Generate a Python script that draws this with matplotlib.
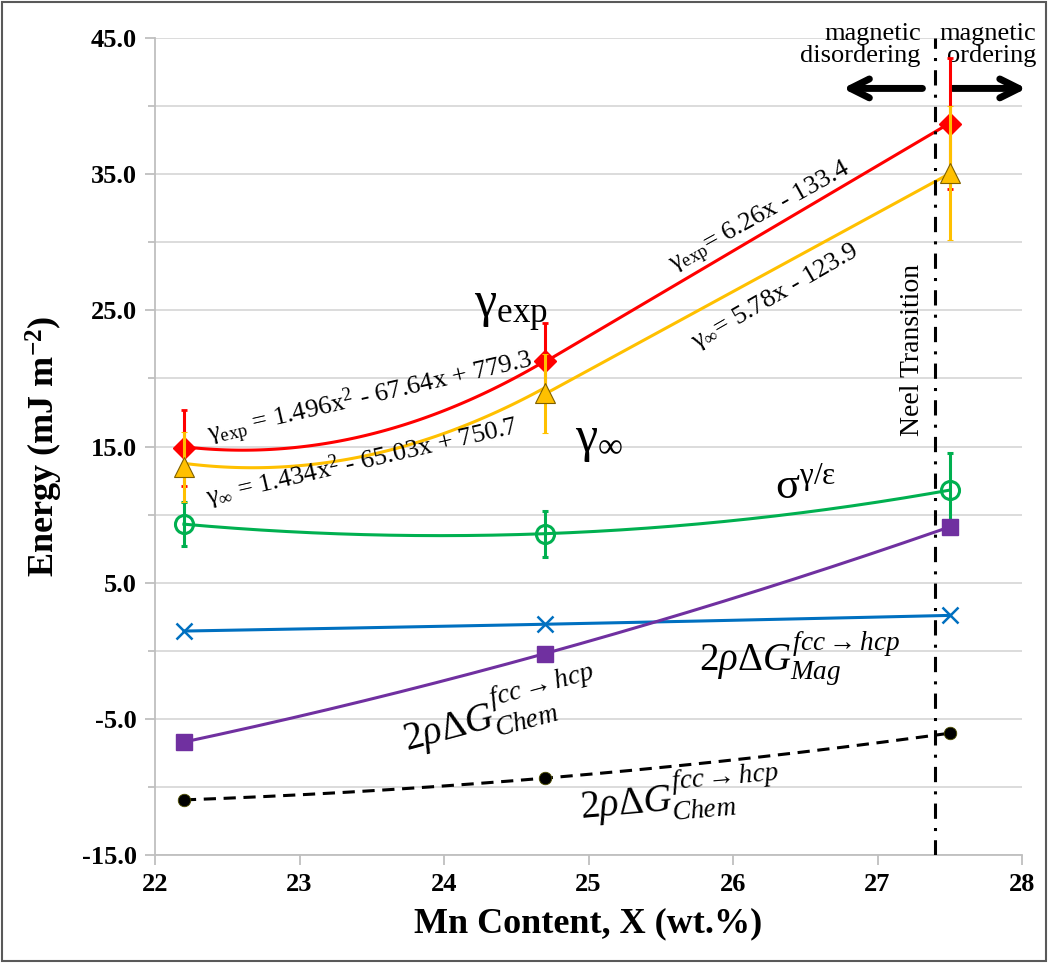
#Imports
import numpy as np
import matplotlib
matplotlib.use('Agg')
from matplotlib import pyplot as plt
from matplotlib.ticker import MultipleLocator, FixedLocator, FormatStrFormatter
from matplotlib.patches import Rectangle
#-----------------------------------------------------------------------------
#data
mn = [22.2, 24.7, 27.5]

gamma_exp = [14.9, 21.3, 38.7]
gamma_exp_err = [2.8, 2.8, 4.8]
gamma_inf = [13.5, 18.9, 35.1]
gamma_inf_err = [2.6, 2.9, 4.9]
sigma = [9.3, 8.6, 11.8]
sigma_err = [1.6, 1.7, 2.7]
g_mag = [1.45, 1.95, 2.6]
g_chem = [-6.7, -0.2, 9.1]
g_chem2 = [-10.95, -9.35, -6.05]

#trendline coefficients printed on the chart
exp_quad = [1.496, -67.64, 779.3]
exp_lin = [6.26, -133.4]
inf_quad = [1.434, -65.03, 750.7]
inf_lin = [5.78, -123.9]

y_major = [-15, -5, 5, 15, 25, 35, 45]
y_minor = [-10, 0, 10, 20, 30, 40]
neel_x = 27.4

plt.rcParams['font.family'] = ['Liberation Serif', 'DejaVu Serif']
plt.rcParams['mathtext.fontset'] = 'custom'
plt.rcParams['mathtext.rm'] = 'Liberation Serif'
plt.rcParams['mathtext.it'] = 'Liberation Serif:italic'
plt.rcParams['mathtext.bf'] = 'Liberation Serif:bold'

fig = plt.figure(figsize=(10.48, 9.63), dpi=100)
ax = fig.add_axes([0.1479, 0.1121, 0.8273, 0.8484])

#figure border
fig.patches.append(Rectangle((0.002, 0.002), 0.996, 0.996, transform=fig.transFigure,
                             fill=False, edgecolor='#595959', lw=1.5))

#trend curves
xq = np.linspace(mn[0], mn[1], 100)
xl = np.linspace(mn[1], mn[2], 50)
xa = np.linspace(mn[0], mn[2], 150)
ax.plot(xq, np.polyval(exp_quad, xq), color='#FF0000', lw=2.2, zorder=3)
ax.plot(xl, np.polyval(exp_lin, xl), color='#FF0000', lw=2.2, zorder=3)
ax.plot(xq, np.polyval(inf_quad, xq), color='#FFC000', lw=2.2, zorder=3)
ax.plot(xl, np.polyval(inf_lin, xl), color='#FFC000', lw=2.2, zorder=3)
ax.plot(xa, np.polyval(np.polyfit(mn, sigma, 2), xa), color='#00B050', lw=2.2, zorder=3)
ax.plot(xa, np.polyval(np.polyfit(mn, g_mag, 2), xa), color='#0070C0', lw=2.2, zorder=3)
ax.plot(xa, np.polyval(np.polyfit(mn, g_chem, 2), xa), color='#7030A0', lw=2.2, zorder=3)
ax.plot(xa, np.polyval(np.polyfit(mn, g_chem2, 2), xa), color='black', lw=2.2,
        ls=(0, (4, 2.5)), zorder=3)

#markers with error bars
ax.errorbar(mn, gamma_exp, yerr=gamma_exp_err, fmt='D', color='#FF0000', ms=11,
            ecolor='#FF0000', elinewidth=2.2, capsize=2, capthick=2, zorder=5)
ax.errorbar(mn, gamma_inf, yerr=gamma_inf_err, fmt='^', color='#FFC000', ms=15,
            mec='#7F6000', mew=0.8, ecolor='#FFC000', elinewidth=2.2, capsize=2,
            capthick=2, zorder=6)
ax.errorbar(mn, sigma, yerr=sigma_err, fmt='o', color='#00B050', mfc='none', ms=13,
            mew=2.2, ecolor='#00B050', elinewidth=2.2, capsize=2, capthick=2, zorder=5)
ax.plot(mn, g_mag, 'x', color='#0070C0', ms=12, mew=1.8, zorder=5)
ax.plot(mn, g_chem, 's', color='#7030A0', ms=11, zorder=5)
ax.plot(mn, g_chem2, 'o', color='black', ms=9, mec='#4F4F00', mew=0.6, zorder=5)

#neel line
ax.axvline(neel_x, color='black', lw=2.2, ls=(0, (5, 3, 1, 3)), zorder=4)

#axes format
ax.set_xlim(22, 28)
ax.set_ylim(-15, 45)
ax.xaxis.set_major_locator(MultipleLocator(1))
ax.yaxis.set_major_locator(FixedLocator(y_major))
ax.yaxis.set_minor_locator(FixedLocator(y_minor))
ax.yaxis.set_major_formatter(FormatStrFormatter('%.1f'))
ax.grid(True, axis='y', which='both', color='#D9D9D9', lw=1.3, zorder=0)
ax.set_axisbelow(True)
for s in ['top', 'right']:
    ax.spines[s].set_visible(False)
for s in ['left', 'bottom']:
    ax.spines[s].set_color('#BFBFBF')
    ax.spines[s].set_linewidth(1.3)
ax.tick_params(axis='both', which='major', direction='out', length=7, color='#BFBFBF',
               width=1.3, labelsize=19, pad=6)
ax.tick_params(axis='y', which='minor', direction='out', length=5, color='#BFBFBF', width=1.3)
for lab in ax.get_xticklabels() + ax.get_yticklabels():
    lab.set_fontweight('bold')

ax.set_xlabel('Mn Content, X (wt.%)', fontsize=26, fontweight='bold', labelpad=8)
ax.set_ylabel(r'Energy (mJ m$^{\mathbf{-2}}$)', fontsize=26, fontweight='bold', labelpad=12)

#equation labels
ax.text(23.49, 18.6, r'$\mathrm{\gamma_{exp}}$ = 1.496x$^{2}$ - 67.64x + 779.3', fontsize=19,
        rotation=13, ha='center', va='center', rotation_mode='anchor')
ax.text(23.43, 13.9, r'$\mathrm{\gamma_{\infty}}$ = 1.434x$^{2}$ - 65.03x + 750.7', fontsize=19,
        rotation=13, ha='center', va='center', rotation_mode='anchor')
ax.text(26.19, 31.8, r'$\mathrm{\gamma_{exp}}$= 6.26x - 133.4', fontsize=19,
        rotation=29, ha='center', va='center', rotation_mode='anchor')
ax.text(26.29, 26.0, r'$\mathrm{\gamma_{\infty}}$= 5.78x - 123.9', fontsize=19,
        rotation=30, ha='center', va='center', rotation_mode='anchor')

#series labels
ax.text(24.46, 25.0, r'$\mathrm{\gamma_{exp}}$', fontsize=36, ha='center', va='center')
ax.text(25.07, 15.4, r'$\mathrm{\gamma_{\infty}}$', fontsize=36, ha='center', va='center')
ax.text(26.5, 12.0, r'$\mathrm{\sigma^{\gamma/\varepsilon}}$', fontsize=32,
        ha='center', va='center')
ax.text(26.46, -0.6, r'$\mathrm{2}\rho\Delta G^{fcc\rightarrow hcp}_{Mag}$', fontsize=28,
        ha='center', va='center')
ax.text(24.39, -4.4, r'$\mathrm{2}\rho\Delta G^{fcc\rightarrow hcp}_{Chem}$', fontsize=28,
        rotation=15, ha='center', va='center', rotation_mode='anchor')
ax.text(25.63, -10.6, r'$\mathrm{2}\rho\Delta G^{fcc\rightarrow hcp}_{Chem}$', fontsize=28,
        rotation=5, ha='center', va='center', rotation_mode='anchor')

ax.text(27.24, 22.1, 'Neel Transition', fontsize=20, rotation=90, ha='center', va='center')
ax.text(27.3, 44.5, 'magnetic\ndisordering', fontsize=19, ha='right', va='center',
        linespacing=1.0, clip_on=False)
ax.text(28.1, 44.5, 'magnetic\nordering', fontsize=19, ha='right', va='center',
        linespacing=1.0, clip_on=False)

#arrows
ax.annotate('', xy=(26.74, 41.3), xytext=(27.33, 41.3), annotation_clip=False,
            arrowprops=dict(arrowstyle='->', lw=5, mutation_scale=34, color='black'))
ax.annotate('', xy=(28.05, 41.3), xytext=(27.5, 41.3), annotation_clip=False,
            arrowprops=dict(arrowstyle='->', lw=5, mutation_scale=34, color='black'))

plt.savefig('out.png', dpi=100)
